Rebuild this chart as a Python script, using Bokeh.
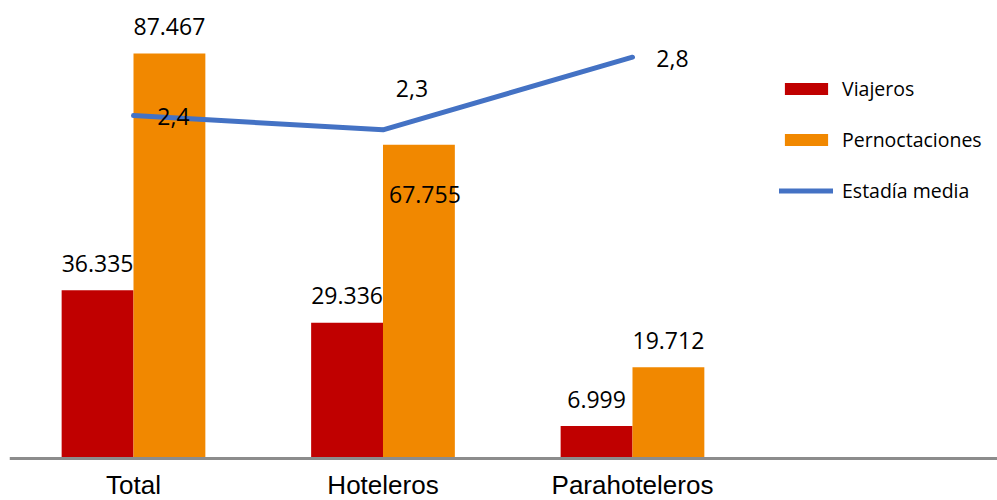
from bokeh.plotting import figure
from bokeh.models import ColumnDataSource, Range1d, Span, Legend, LegendItem
from bokeh.core.properties import value
from bokeh.embed import file_html
from bokeh.resources import INLINE

# datos
categorias = ["Total", "Hoteleros", "Parahoteleros"]
viajeros = [36335, 29336, 6999]
pernoctaciones = [87467, 67755, 19712]
estadia_media = [2.41, 2.31, 2.82]

# desplazamientos de las etiquetas (px)
dx_pern = [0, 6, 0]
dy_pern = [-27, 50, -27]
dx_estadia = [40, 29, 40]
dy_estadia = [1, -41, 1]

ROJO = "#C00000"
NARANJA = "#F18800"
AZUL = "#4472C4"

def miles(v):
    return f"{v:,}".replace(",", ".")

idx = list(range(len(categorias)))
ancho = 0.288

src = ColumnDataSource(data=dict(
    x=idx,
    x_v=[i - ancho / 2 for i in idx],
    x_p=[i + ancho / 2 for i in idx],
    cero=[0] * len(idx),
    cat=categorias,
    viajeros=viajeros,
    pernoctaciones=pernoctaciones,
    estadia=estadia_media,
    t_v=[miles(v) for v in viajeros],
    t_p=[miles(v) for v in pernoctaciones],
    t_e=[f"{v:.1f}".replace(".", ",") for v in estadia_media],
    dx_p=dx_pern, dy_p=dy_pern,
    dx_e=dx_estadia, dy_e=dy_estadia,
))

p = figure(width=997, height=500, x_range=Range1d(-0.497, 3.463),
           y_range=Range1d(-9071, 98920), output_backend="svg",
           toolbar_location=None, min_border=0, min_border_left=9)
p.extra_y_ranges = {"sec": Range1d(-0.295, 3.2185)}
p.xaxis.visible = False
p.yaxis.visible = False
p.grid.visible = False
p.outline_line_color = None

# barras
r_v = p.vbar(x="x_v", top="viajeros", width=ancho, source=src,
             fill_color=ROJO, line_color=None)
r_p = p.vbar(x="x_p", top="pernoctaciones", width=ancho, source=src,
             fill_color=NARANJA, line_color=None)

# eje horizontal
p.add_layout(Span(location=0, dimension="width", line_color="#8C8C8C", line_width=3))

# linea estadia media
r_e = p.line(x="x", y="estadia", source=src, y_range_name="sec",
             line_color=AZUL, line_width=5, line_cap="round", line_join="round")

# etiquetas de datos
fuente = value("Open Sans")
p.text(x="x_v", y="viajeros", text="t_v", source=src, text_font=fuente,
       text_font_size="23px", text_align="center", text_baseline="alphabetic",
       y_offset=-27, text_color="black")
p.text(x="x_p", y="pernoctaciones", text="t_p", source=src, text_font=fuente,
       text_font_size="23px", text_align="center", text_baseline="alphabetic",
       x_offset="dx_p", y_offset="dy_p", text_color="black")
p.text(x="x", y="estadia", text="t_e", source=src, y_range_name="sec",
       text_font=fuente, text_font_size="23px", text_align="center",
       text_baseline="alphabetic", x_offset="dx_e", y_offset="dy_e",
       text_color="black")

# nombres de categorias
p.text(x="x", y="cero", text="cat", source=src, text_font=value("Liberation Sans"),
       text_font_size="26px", text_align="center", text_baseline="alphabetic",
       y_offset=26, text_color="black")

leyenda = Legend(items=[
    LegendItem(label="Viajeros", renderers=[r_v]),
    LegendItem(label="Pernoctaciones", renderers=[r_p]),
    LegendItem(label="Estadía media", renderers=[r_e]),
], location=(770, 296))
leyenda.glyph_width = 54
leyenda.glyph_height = 15
leyenda.label_height = 25
leyenda.label_standoff = 9
leyenda.spacing = 24
leyenda.padding = 0
leyenda.margin = 0
leyenda.border_line_color = None
leyenda.background_fill_alpha = 0
leyenda.label_text_font = "Open Sans"
leyenda.label_text_font_size = "19.5px"
leyenda.label_text_color = "black"
p.add_layout(leyenda)

open("out.html", "w").write(file_html(p, INLINE))
